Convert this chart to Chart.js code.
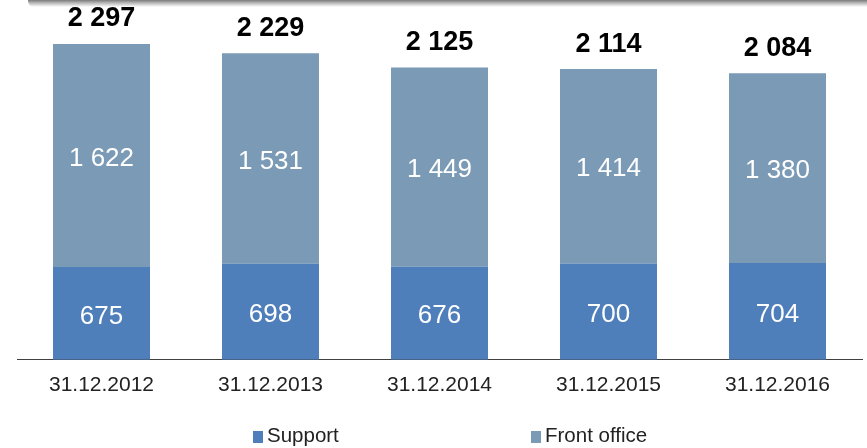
<!DOCTYPE html>
<html>
<head>
<meta charset="utf-8">
<script src="https://cdn.jsdelivr.net/npm/chart.js@4/dist/chart.umd.min.js"></script>
<style>
    html, body { margin: 0; padding: 0; background: #fff; overflow: hidden; }
    #wrap { position: relative; width: 867px; height: 448px; }
    #shadow {
        position: absolute; left: 28px; right: 0; top: 0; height: 7px;
        background: linear-gradient(to bottom, #7a7a7a 0%, #b5b5b5 40%, #fff 100%);
        border-bottom-left-radius: 6px;
    }
</style>
</head>
<body>
<div id="wrap">
    <div id="shadow"></div>
    <canvas id="myChart" width="867" height="448"></canvas>
</div>
<script>
const categories = ['31.12.2012', '31.12.2013', '31.12.2014', '31.12.2015', '31.12.2016'];
const supportValues = [675, 698, 676, 700, 704];
const frontOfficeValues = [1622, 1531, 1449, 1414, 1380];
const totals = [2297, 2229, 2125, 2114, 2084];

const FONT = '"Liberation Sans", Arial, sans-serif';

function fmt(n) {
    return String(n).replace(/\B(?=(\d{3})+(?!\d))/g, ' ');
}

// value labels inside the bars + totals on top
const labelPlugin = {
    id: 'barLabels',
    afterDatasetsDraw(chart) {
        const ctx = chart.ctx;
        ctx.save();
        ctx.textAlign = 'center';
        ctx.textBaseline = 'middle';
        chart.data.datasets.forEach((ds, i) => {
            const meta = chart.getDatasetMeta(i);
            meta.data.forEach((bar, j) => {
                ctx.fillStyle = '#ffffff';
                ctx.font = '26px ' + FONT;
                ctx.fillText(fmt(ds.data[j]), bar.x, (bar.y + bar.base) / 2 + 3);
            });
        });
        const topMeta = chart.getDatasetMeta(1);
        topMeta.data.forEach((bar, j) => {
            ctx.fillStyle = '#000000';
            ctx.font = 'bold 27px ' + FONT;
            ctx.fillText(fmt(totals[j]), bar.x, bar.y - 25);
        });
        ctx.restore();
    }
};

// legend drawn by hand so the wide gap between items matches
const legendPlugin = {
    id: 'wideLegend',
    afterDraw(chart) {
        const ctx = chart.ctx;
        const boxX = [253, 531];
        ctx.save();
        ctx.textAlign = 'left';
        ctx.textBaseline = 'middle';
        ctx.font = '20.5px ' + FONT;
        chart.data.datasets.forEach((ds, i) => {
            ctx.fillStyle = ds.backgroundColor;
            ctx.fillRect(boxX[i], 431, 10, 12);
            ctx.fillStyle = '#222';
            ctx.fillText(ds.label, boxX[i] + 14, 436);
        });
        ctx.restore();
    }
};

const ctx = document.getElementById('myChart').getContext('2d');
const chartInstance = new Chart(ctx, {
    type: 'bar',
    data: {
        labels: categories,
        datasets: [{
            label: 'Support',
            data: supportValues,
            backgroundColor: '#4F7FBB',
            barPercentage: 0.574,
            categoryPercentage: 1
        }, {
            label: 'Front office',
            data: frontOfficeValues,
            backgroundColor: '#7A9AB5',
            barPercentage: 0.574,
            categoryPercentage: 1
        }]
    },
    options: {
        responsive: false,
        animation: false,
        layout: { padding: { left: 17, right: 5, top: 16, bottom: 45 } },
        plugins: {
            tooltip: { enabled: false },
            legend: { display: false }
        },
        scales: {
            x: {
                stacked: true,
                grid: { display: false },
                border: { display: true, color: '#404040', width: 1 },
                ticks: {
                    color: '#222',
                    padding: 5,
                    font: { family: FONT, size: 21 }
                }
            },
            y: {
                stacked: true,
                display: false,
                min: 0,
                max: 2500
            }
        }
    },
    plugins: [labelPlugin, legendPlugin]
});
</script>
</body>
</html>
